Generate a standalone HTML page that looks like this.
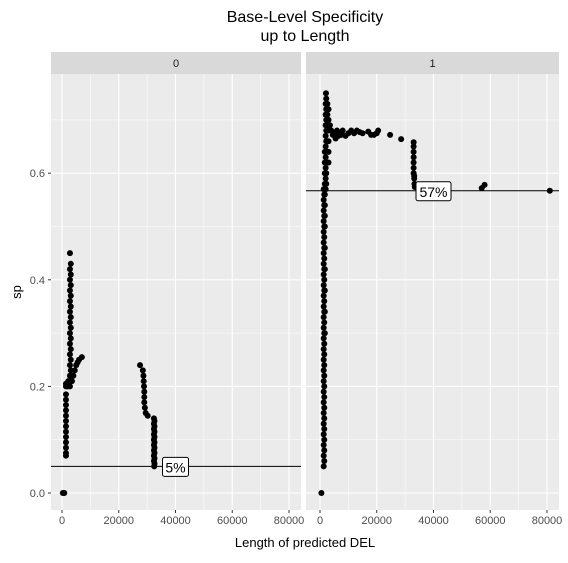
<!DOCTYPE html>
<html><head><meta charset="utf-8"><style>
body{margin:0;background:#fff;font-family:"Liberation Sans",sans-serif}
</style></head><body>
<svg id="c" width="568" height="558" xmlns="http://www.w3.org/2000/svg"></svg>
<script>
const xTicks=[0,20000,40000,60000,80000];
const xTickLabels=["0","20000","40000","60000","80000"];
const yTicks=[0,0.2,0.4,0.6];
const yTickLabels=["0.0","0.2","0.4","0.6"];
const panelLabels=["0","1"];
const refLines=[0.05,0.567];
const refLabels=["5%","57%"];
const refLabelX=[40000,40000];
// panel 0 points (x in bp, y specificity)
const p0x=[300,800,1400,1400,1400,1400,1400,1400,1400,1400,1400,1400,1400,1400,1400,1400,1400,
2800,3100,2800,3100,2800,3100,2800,3100,2800,3100,2800,3100,2800,3100,2800,3100,2800,3100,2800,3100,2800,3100,2800,3100,2800,
2000,2200,3500,4000,4500,5000,5500,6000,7000,
27500,28500,28700,28800,28900,29000,29000,29000,29200,29500,30200,
32400,32600,32400,32600,32400,32600,32400,32600,32400,32600,32400,32600,32400,32600,32400,32600,32400,32600,32500];
const p0y=[0,0,0.07,0.075,0.085,0.095,0.105,0.115,0.125,0.135,0.145,0.155,0.165,0.175,0.185,0.2,0.205,
0.2,0.21,0.22,0.23,0.24,0.25,0.26,0.27,0.28,0.29,0.3,0.31,0.32,0.33,0.34,0.35,0.36,0.37,0.38,0.39,0.4,0.41,0.42,0.43,0.45,
0.2,0.21,0.21,0.22,0.23,0.24,0.245,0.25,0.255,
0.24,0.23,0.22,0.21,0.2,0.19,0.18,0.17,0.16,0.15,0.145,
0.14,0.135,0.13,0.125,0.12,0.115,0.11,0.105,0.1,0.095,0.09,0.085,0.08,0.075,0.07,0.065,0.06,0.055,0.05];
// panel 1 points
const p1x=[500,
1300,1300,1300,1300,1300,1300,1300,1300,1300,1300,1300,1300,1300,1300,1300,1300,1300,1300,1300,1300,1300,1300,1300,1300,1300,1300,1300,
1500,1500,1500,1500,1500,1500,1500,1500,1500,1500,1500,1500,1500,1500,1500,1500,1500,1500,1500,1500,1500,1500,1500,1500,1500,1500,
1700,1700,1700,1700,1700,1700,1700,1700,1700,1700,1700,1700,1700,
2000,2200,2000,2200,2000,2200,2000,2200,2000,2200,2000,2200,2000,2200,2000,2200,2000,2200,2100,
3000,3000,3000,3000,3000,3000,2600,2600,2600,2600,
3500,4000,4500,5000,5500,6000,6500,7000,7500,8000,9000,10000,11000,12000,13000,14000,15000,17000,18000,19000,20000,20500,
24700,28600,
33000,33000,33000,33000,33000,33000,33000,33200,33200,33300,33400,
57000,58000,81000];
const p1y=[0,
0.05,0.07,0.09,0.11,0.13,0.15,0.17,0.19,0.21,0.23,0.25,0.27,0.29,0.31,0.33,0.35,0.37,0.39,0.41,0.43,0.45,0.47,0.49,0.51,0.53,0.55,0.57,
0.06,0.08,0.1,0.12,0.14,0.16,0.18,0.2,0.22,0.24,0.26,0.28,0.3,0.32,0.34,0.36,0.38,0.4,0.42,0.44,0.46,0.48,0.5,0.52,0.54,0.56,
0.3,0.34,0.38,0.42,0.46,0.5,0.52,0.54,0.56,0.58,0.6,0.62,0.64,
0.57,0.58,0.59,0.6,0.61,0.62,0.63,0.64,0.65,0.66,0.67,0.68,0.69,0.7,0.71,0.72,0.73,0.74,0.75,
0.62,0.64,0.66,0.68,0.7,0.72,0.66,0.69,0.71,0.73,
0.69,0.68,0.672,0.675,0.665,0.68,0.67,0.675,0.672,0.68,0.67,0.675,0.68,0.675,0.68,0.677,0.675,0.678,0.672,0.672,0.675,0.68,
0.672,0.664,
0.658,0.65,0.64,0.63,0.62,0.61,0.6,0.595,0.59,0.58,0.574,
0.572,0.578,0.567];

const svg=document.getElementById('c');
const NS='http://www.w3.org/2000/svg';
function mk(t,a,p){const e=document.createElementNS(NS,t);for(const k in a)e.setAttribute(k,a[k]);(p||svg).appendChild(e);return e;}
const plotTop=74,plotBot=510;
const panels=[{l:51,r:301,o:11},{l:306,r:559,o:14}];
function sx(p,v){return panels[p].l+panels[p].o+v*(227/80000);}
function sy(v){return 493-v*533;}

let t=mk('text',{x:305,y:22,'text-anchor':'middle','font-size':16,fill:'#000'});t.textContent='Base-Level Specificity';


t=mk('text',{x:305,y:41,'text-anchor':'middle','font-size':16,fill:'#000'});t.textContent='up to Length';



panels.forEach((P,pi)=>{
  const g=mk('g',{});
  
  
  mk('rect',{x:P.l,y:plotTop,width:P.r-P.l,height:plotBot-plotTop,fill:'#ebebeb'},g);
  const s=mk('rect',{x:P.l,y:52,width:P.r-P.l,height:22,fill:'#d9d9d9'},g);
  
  
  const st=mk('text',{x:(P.l+P.r)/2,y:67,'text-anchor':'middle','font-size':11,fill:'#1a1a1a'},g);
  st.textContent=panelLabels[pi];
  for(let i=0;i<yTicks.length;i++){const v=yTicks[i]+0.1;mk('line',{x1:P.l,x2:P.r,y1:sy(v),y2:sy(v),stroke:'#fff','stroke-width':0.5},g);}
  for(let i=0;i<xTicks.length;i++){const v=xTicks[i]+10000;if(sx(pi,v)<P.r)mk('line',{x1:sx(pi,v),x2:sx(pi,v),y1:plotTop,y2:plotBot,stroke:'#fff','stroke-width':0.5},g);}
  yTicks.forEach(v=>mk('line',{x1:P.l,x2:P.r,y1:sy(v),y2:sy(v),stroke:'#fff','stroke-width':1.1},g));
  xTicks.forEach((v,i)=>{
    const x=sx(pi,v);
    mk('line',{x1:x,x2:x,y1:plotTop,y2:plotBot,stroke:'#fff','stroke-width':1.1},g);
    mk('line',{x1:x,x2:x,y1:plotBot,y2:plotBot+3,stroke:'#333','stroke-width':1},g);
    const tl=mk('text',{x:x,y:plotBot+14,'text-anchor':'middle','font-size':11,fill:'#4d4d4d'},g);
    tl.textContent=xTickLabels[i];
    
    
  });
  const xs=pi===0?p0x:p1x, ys=pi===0?p0y:p1y;
  for(let i=0;i<xs.length;i++){
    const c=mk('circle',{cx:sx(pi,xs[i]),cy:sy(ys[i]),r:3,fill:'#000'},g);
    
    
  }
  const rl=mk('line',{x1:P.l,x2:P.r,y1:sy(refLines[pi]),y2:sy(refLines[pi]),stroke:'#000','stroke-width':1},g);
  
  
  const lx=sx(pi,refLabelX[pi]), w=refLabels[pi].length*9+8;
  const lb=mk('g',{},g);
  
  
  mk('rect',{x:lx-w/2,y:sy(refLines[pi])-9,width:w,height:19,rx:2,fill:'#fff',stroke:'#000','stroke-width':1},lb);
  const lt=mk('text',{x:lx,y:sy(refLines[pi])+6,'text-anchor':'middle','font-size':14,fill:'#000'},lb);
  lt.textContent=refLabels[pi];
});
yTicks.forEach((v,i)=>{
  mk('line',{x1:48,x2:51,y1:sy(v),y2:sy(v),stroke:'#333','stroke-width':1});
  const tl=mk('text',{x:45,y:sy(v)+4,'text-anchor':'end','font-size':11,fill:'#4d4d4d'});
  tl.textContent=yTickLabels[i];
  
  
});
t=mk('text',{x:305,y:547,'text-anchor':'middle','font-size':13,fill:'#000'});t.textContent='Length of predicted DEL';


t=mk('text',{x:0,y:0,'text-anchor':'middle','font-size':13,fill:'#000',transform:'translate(21,292) rotate(-90)'});t.textContent='sp';


</script>
</body></html>
